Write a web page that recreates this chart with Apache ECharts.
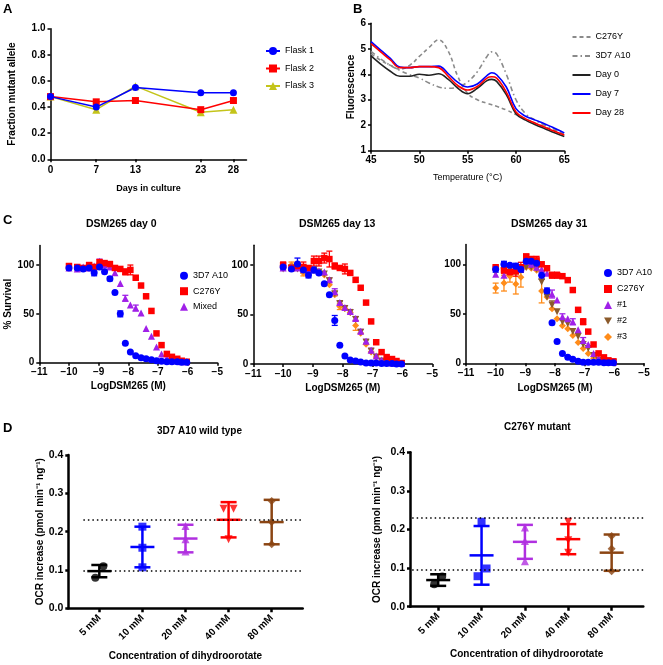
<!DOCTYPE html>
<html><head><meta charset="utf-8">
<script src="https://cdn.jsdelivr.net/npm/echarts@6/dist/echarts.min.js"></script>
<style>html,body{margin:0;padding:0;background:#fff}#c{width:663px;height:665px}</style>
</head><body><div id="c"></div>
<script>
// ---------- Panel A data ----------
const flaskDays = [0, 7, 13, 23, 28];
const flask1 = [0.48, 0.40, 0.55, 0.51, 0.51];
const flask2 = [0.48, 0.44, 0.45, 0.38, 0.45];
const flask3 = [0.48, 0.38, 0.56, 0.36, 0.38];

// ---------- Panel B data ----------
const meltTemp  = [45, 46, 47, 48, 49, 50, 51, 52, 53, 54, 55, 56, 57, 57.5, 58, 59, 60, 61, 62, 63, 64, 65];
const meltC276Y = [4.80, 4.55, 4.35, 4.20, 4.35, 4.70, 5.05, 5.35, 4.90, 3.90, 3.25, 3.00, 2.86, 2.80, 2.74, 2.60, 2.42, 2.25, 2.08, 1.93, 1.80, 1.65];
const melt3D7   = [4.90, 4.60, 4.35, 4.15, 3.98, 3.85, 3.66, 3.50, 3.45, 3.50, 3.70, 4.10, 4.70, 4.88, 4.80, 4.00, 3.00, 2.45, 2.20, 2.00, 1.85, 1.70];
const meltDay0  = [4.72, 4.40, 4.12, 3.92, 3.92, 4.00, 3.96, 4.02, 3.80, 3.45, 3.24, 3.45, 3.75, 3.80, 3.72, 3.20, 2.45, 2.20, 2.02, 1.86, 1.70, 1.56];
const meltDay7  = [5.28, 4.95, 4.62, 4.28, 4.26, 4.30, 4.30, 4.32, 4.02, 3.68, 3.50, 3.62, 3.95, 4.06, 3.98, 3.50, 2.65, 2.35, 2.20, 2.05, 1.88, 1.70];
const meltDay28 = [5.20, 4.88, 4.56, 4.26, 4.26, 4.30, 4.30, 4.26, 3.92, 3.55, 3.38, 3.52, 3.85, 3.90, 3.85, 3.30, 2.52, 2.25, 2.08, 1.92, 1.76, 1.62];

// ---------- Panel C data (log dose, % survival, error) ----------
const cDose = [-10, -9.72, -9.52, -9.32, -9.15, -8.97, -8.8, -8.62, -8.45, -8.27, -8.1, -7.93, -7.75, -7.57, -7.4, -7.22, -7.05, -6.88, -6.7, -6.53, -6.35, -6.2, -6.03];
// day 0
const d0Wt     = [97, 97, 96, 97, 92, 98, 93, 86, 72, 50, 20, 11, 7, 5, 4, 3, 2, 1.5, 1, 1, 1, 0.5, 0.5];
const d0WtErr  = [2, 0, 0, 0, 3, 2, 0, 2, 0, 3, 0, 0, 0, 0, 0, 0, 0, 0, 0, 0, 0, 0, 0];
const d0Mut    = [99, 98, 97, 100, 98, 103, 102, 101, 97, 96, 93, 95, 87, 79, 68, 53, 30, 18, 9, 6, 4, 2, 1];
const d0MutErr = [2, 0, 0, 0, 0, 0, 0, 0, 0, 0, 3, 5, 0, 0, 0, 0, 0, 0, 0, 0, 0, 0, 0];
const d0Mix    = [97, 96, 98, 97, 99, 104, 100, 98, 92, 81, 66, 59, 56, 51, 35, 27, 16, 9, 5, 3, 2, 1, 1];
const d0MixErr = [0, 0, 0, 0, 0, 2, 0, 0, 0, 0, 3, 0, 3, 0, 0, 0, 0, 0, 0, 0, 0, 0, 0];
// day 13
const d13Wt     = [98, 96, 101, 95, 90, 95, 92, 81, 70, 44, 19, 8, 4, 3, 2, 1, 1, 1, 0.5, 0.5, 0.5, 0, 0];
const d13WtErr  = [3, 0, 6, 3, 3, 3, 0, 0, 0, 5, 0, 0, 0, 0, 0, 0, 0, 0, 0, 0, 0, 0, 0];
const d13Mut    = [100, 97, 99, 98, 97, 104, 104, 107, 106, 99, 97, 96, 92, 85, 77, 62, 43, 22, 12, 7, 5, 3, 1];
const d13MutErr = [3, 0, 0, 5, 0, 5, 5, 5, 8, 3, 0, 5, 0, 0, 0, 0, 0, 0, 0, 0, 0, 0, 0];
const d13C1     = [97, 98, 97, 96, 95, 96, 94, 93, 85, 73, 62, 57, 53, 46, 33, 23, 14, 8, 4, 2, 1, 1, 0.5];
const d13C1Err  = [0, 0, 0, 0, 0, 0, 0, 0, 2, 3, 2, 2, 2, 2, 2, 2, 2, 0, 0, 0, 0, 0, 0];
const d13C2     = [96, 97, 96, 95, 94, 95, 93, 91, 84, 71, 61, 56, 52, 45, 32, 22, 13, 7, 3, 2, 1, 0.5, 0.5];
const d13C2Err  = [0, 0, 0, 0, 0, 0, 0, 0, 0, 2, 2, 0, 0, 0, 0, 0, 0, 0, 0, 0, 0, 0, 0];
const d13C3     = [97, 100, 97, 92, 93, 95, 92, 90, 80, 70, 58, 56, 52, 39, 31, 20, 12, 7, 3, 2, 1, 1, 0.5];
const d13C3Err  = [0, 3, 0, 3, 0, 0, 0, 0, 0, 0, 3, 0, 0, 5, 0, 0, 0, 0, 0, 0, 0, 0, 0];
// day 31
const d31Wt     = [95, 100, 99, 98, 95, 103, 103, 101, 89, 73, 41, 22, 10, 6, 4, 2, 1, 1, 1, 1, 0.5, 0.5, 0.5];
const d31WtErr  = [3, 3, 0, 3, 3, 3, 3, 3, 4, 3, 0, 0, 0, 0, 0, 0, 0, 0, 0, 0, 0, 0, 0];
const d31Mut    = [97, 94, 92, 93, 97, 108, 105, 104, 100, 96, 89, 89, 88, 84, 74, 54, 42, 32, 19, 10, 6, 3, 2];
const d31MutErr = [0, 3, 0, 5, 5, 2, 3, 4, 0, 0, 3, 3, 0, 0, 0, 0, 3, 0, 0, 0, 0, 0, 0];
const d31C1     = [90, 89, 93, 94, 96, 103, 100, 97, 95, 91, 70, 64, 47, 45, 42, 34, 23, 19, 10, 5, 2, 1, 1];
const d31C1Err  = [0, 0, 0, 0, 0, 0, 0, 0, 0, 0, 4, 0, 3, 0, 3, 0, 3, 0, 0, 0, 0, 0, 0];
const d31C2     = [92, 93, 95, 92, 94, 97, 97, 95, 82, 67, 59, 52, 42, 40, 32, 27, 19, 15, 8, 3, 1, 1, 0.5];
const d31C2Err  = [0, 0, 0, 0, 0, 0, 0, 0, 0, 0, 4, 0, 0, 0, 0, 0, 0, 0, 0, 0, 0, 0, 0];
const d31C3     = [76, 81, 88, 80, 87, 97, 96, 94, 73, 67, 55, 45, 38, 35, 28, 21, 15, 10, 5, 2, 1, 0.5, 0.5];
const d31C3Err  = [5, 8, 6, 10, 10, 0, 0, 0, 12, 0, 0, 0, 0, 0, 0, 0, 0, 0, 0, 0, 0, 0, 0];
const survivalTicks = [0, 50, 100];

// ---------- Panel D data ----------
const doseLabels = ['5 mM', '10 mM', '20 mM', '40 mM', '80 mM'];
const doseIndex = [0, 1, 2, 3, 4];
const wtPoints  = [[0.08, 0.11], [0.107, 0.158, 0.213], [0.148, 0.18, 0.215], [0.18, 0.26, 0.26], [0.167, 0.225, 0.28]];
const wtMean    = [0.097, 0.16, 0.182, 0.231, 0.225];
const wtSD      = [0.016, 0.053, 0.036, 0.046, 0.058];
const mutPoints = [[0.058, 0.078], [0.079, 0.099, 0.22], [0.118, 0.17, 0.205], [0.14, 0.172, 0.22], [0.092, 0.15, 0.183]];
const mutMean   = [0.069, 0.133, 0.168, 0.175, 0.14];
const mutSD     = [0.015, 0.076, 0.044, 0.039, 0.047];
const refLevels = [0.23, 0.097];

// ---------- styling ----------
const FONT = '"Liberation Sans", Arial, Helvetica, sans-serif';
const BLUE = '#0000ff', RED = '#ff0000', YEL = '#c4c41a', PURPLE = '#a020e8', BROWN = '#8b5a2b', ORANGE = '#ff8c1a';
const INV_TRI = 'path://M0,0 L10,0 L5,9 Z';
const dColors = ['#000000', BLUE, '#b030e0', RED, '#8b4513'];
const dSymbols = ['circle', 'rect', 'triangle', INV_TRI, 'diamond'];
const wtJitter  = [[-4, 4], [0, 0, 0], [0, 0, 0], [0, -5, 5], [0, 0, 0]];
const mutJitter = [[-4, 4], [-4, 5, 0], [0, 0, 0], [0, 0, 0], [0, 0, 0]];

function axis(w, extra) {
  const base = {
    axisLine: {show: true, onZero: false, lineStyle: {color: '#000', width: w}},
    axisTick: {show: true, inside: false, length: 3, lineStyle: {color: '#000', width: w}},
    splitLine: {show: false},
    axisLabel: {color: '#000', fontFamily: FONT, fontWeight: 'bold', fontSize: 10, margin: 5},
    nameLocation: 'middle',
    nameTextStyle: {color: '#000', fontFamily: FONT, fontWeight: 'bold', fontSize: 10}
  };
  for (const k in extra) {
    if (typeof extra[k] === 'object' && !Array.isArray(extra[k]) && base[k]) base[k] = Object.assign({}, base[k], extra[k]);
    else base[k] = extra[k];
  }
  return base;
}
const minusFmt = v => (v < 0 ? '\u2212' + Math.abs(v) : String(v));

function errRender(color) {
  return function (params, api) {
    const x = api.value(0), y = api.value(1), e = api.value(2);
    if (!e) return null;
    const t = api.coord([x, y + e]), b = api.coord([x, y - e]);
    const cw = 3, st = {stroke: color, lineWidth: 1.3};
    return {type: 'group', children: [
      {type: 'line', shape: {x1: t[0], y1: t[1], x2: b[0], y2: b[1]}, style: st},
      {type: 'line', shape: {x1: t[0] - cw, y1: t[1], x2: t[0] + cw, y2: t[1]}, style: st},
      {type: 'line', shape: {x1: b[0] - cw, y1: b[1], x2: b[0] + cw, y2: b[1]}, style: st}
    ]};
  };
}
function meanSdRender(params, api) {
  const i = api.value(0), m = api.value(1), s = api.value(2);
  const c = dColors[i];
  const pm = api.coord([i, m]), pt = api.coord([i, m + s]), pb = api.coord([i, m - s]);
  const st = {stroke: c, lineWidth: 2.5};
  const hw = 12, cw = 8;
  return {type: 'group', children: [
    {type: 'line', shape: {x1: pm[0] - hw, y1: pm[1], x2: pm[0] + hw, y2: pm[1]}, style: st},
    {type: 'line', shape: {x1: pt[0], y1: pt[1], x2: pb[0], y2: pb[1]}, style: st},
    {type: 'line', shape: {x1: pt[0] - cw, y1: pt[1], x2: pt[0] + cw, y2: pt[1]}, style: st},
    {type: 'line', shape: {x1: pb[0] - cw, y1: pb[1], x2: pb[0] + cw, y2: pb[1]}, style: st}
  ]};
}

const grids = [
  {left: 50.5, top: 28.7, width: 196, height: 130.6},   // A
  {left: 371, top: 23.3, width: 193.3, height: 127.4},  // B
  {left: 39.3, top: 245.5, width: 178, height: 117.2},  // C1
  {left: 253.3, top: 245.2, width: 179, height: 118.8}, // C2
  {left: 466, top: 244.5, width: 178, height: 118.8},   // C3
  {left: 68.3, top: 455, width: 234.4, height: 153.3},  // D1
  {left: 410, top: 452.3, width: 233.3, height: 154.4}  // D2
];

const xAxes = [
  axis(1.5, {type: 'value', gridIndex: 0, min: 0, max: 30, name: 'Days in culture', nameGap: 25,
    nameTextStyle: {fontSize: 9},
    axisTick: {customValues: flaskDays}, axisLabel: {customValues: flaskDays, margin: 6}}),
  axis(1.5, {type: 'value', gridIndex: 1, min: 45, max: 65, interval: 5, name: 'Temperature (\u00b0C)', nameGap: 22,
    nameTextStyle: {fontSize: 9, fontWeight: 'normal'}}),
  axis(1.5, {type: 'value', gridIndex: 2, min: -11, max: -5, interval: 1, name: 'LogDSM265 (M)', nameGap: 19,
    axisLabel: {formatter: minusFmt}}),
  axis(1.5, {type: 'value', gridIndex: 3, min: -11, max: -5, interval: 1, name: 'LogDSM265 (M)', nameGap: 19,
    axisLabel: {formatter: minusFmt}}),
  axis(1.5, {type: 'value', gridIndex: 4, min: -11, max: -5, interval: 1, name: 'LogDSM265 (M)', nameGap: 20,
    axisLabel: {formatter: minusFmt}}),
  axis(2.5, {type: 'value', gridIndex: 5, min: -0.72, max: 4.72, name: 'Concentration of dihydroorotate', nameGap: 43,
    axisTick: {customValues: doseIndex, length: 4}, axisLabel: {customValues: doseIndex, rotate: 45, margin: 8,
      formatter: v => doseLabels[Math.round(v)] || ''}}),
  axis(2.5, {type: 'value', gridIndex: 6, min: -0.65, max: 4.73, name: 'Concentration of dihydroorotate', nameGap: 43,
    axisTick: {customValues: doseIndex, length: 4}, axisLabel: {customValues: doseIndex, rotate: 45, margin: 8,
      formatter: v => doseLabels[Math.round(v)] || ''}})
];
const yAxes = [
  axis(1.5, {type: 'value', gridIndex: 0, min: 0, max: 1, interval: 0.2, name: 'Fraction mutant allele', nameGap: 33,
    axisLabel: {formatter: v => v.toFixed(1)}}),
  axis(1.5, {type: 'value', gridIndex: 1, min: 1, max: 6, interval: 1, name: 'Fluorescence', nameGap: 15}),
  axis(1.5, {type: 'value', gridIndex: 2, min: 0, max: 120, name: '% Survival', nameGap: 24,
    axisTick: {customValues: survivalTicks}, axisLabel: {customValues: survivalTicks}}),
  axis(1.5, {type: 'value', gridIndex: 3, min: 0, max: 120,
    axisTick: {customValues: survivalTicks}, axisLabel: {customValues: survivalTicks}}),
  axis(1.5, {type: 'value', gridIndex: 4, min: 0, max: 120,
    axisTick: {customValues: survivalTicks}, axisLabel: {customValues: survivalTicks}}),
  axis(2.5, {type: 'value', gridIndex: 5, min: 0, max: 0.4, interval: 0.1, name: 'OCR increase (pmol min\u207b\u00b9 ng\u207b\u00b9)', nameGap: 23,
    axisLabel: {formatter: v => v.toFixed(1), fontSize: 10.5}}),
  axis(2.5, {type: 'value', gridIndex: 6, min: 0, max: 0.4, interval: 0.1, name: 'OCR increase (pmol min\u207b\u00b9 ng\u207b\u00b9)', nameGap: 28,
    axisLabel: {formatter: v => v.toFixed(1), fontSize: 10.5}})
];

const series = [];
// A
[[flask3, 'Flask 3', YEL, 'triangle'], [flask2, 'Flask 2', RED, 'rect'], [flask1, 'Flask 1', BLUE, 'circle']].forEach(([vals, name, col, sym]) => {
  series.push({type: 'line', name, xAxisIndex: 0, yAxisIndex: 0, symbol: sym, symbolSize: sym === 'triangle' ? 8 : 7,
    lineStyle: {color: col, width: 1.5}, itemStyle: {color: col},
    data: flaskDays.map((d, i) => [d, vals[i]])});
});
// B
[[meltC276Y, 'C276Y', '#8a8a8a', [4, 3]], [melt3D7, '3D7 A10', '#8a8a8a', [5, 3, 1.5, 3]],
 [meltDay0, 'Day 0', '#222222', 'solid'], [meltDay7, 'Day 7', BLUE, 'solid'], [meltDay28, 'Day 28', RED, 'solid']].forEach(([vals, name, col, dash]) => {
  series.push({type: 'line', name, xAxisIndex: 1, yAxisIndex: 1, symbol: 'none', showSymbol: false, smooth: 0.4,
    lineStyle: {color: col, width: 1.6, type: dash}, itemStyle: {color: col},
    data: meltTemp.map((t, i) => [t, vals[i]])});
});
// C
const cPanels = [
  {ax: 2, sets: [['3D7 A10 ', d0Wt, d0WtErr, BLUE, 'circle'], ['C276Y ', d0Mut, d0MutErr, RED, 'rect'], ['Mixed', d0Mix, d0MixErr, PURPLE, 'triangle']]},
  {ax: 3, sets: [['3D7 A10  ', d13Wt, d13WtErr, BLUE, 'circle'], ['C276Y  ', d13Mut, d13MutErr, RED, 'rect'],
    ['#1 ', d13C1, d13C1Err, PURPLE, 'triangle'], ['#2 ', d13C2, d13C2Err, BROWN, INV_TRI], ['#3 ', d13C3, d13C3Err, ORANGE, 'diamond']]},
  {ax: 4, sets: [['3D7 A10   ', d31Wt, d31WtErr, BLUE, 'circle'], ['C276Y   ', d31Mut, d31MutErr, RED, 'rect'],
    ['#1', d31C1, d31C1Err, PURPLE, 'triangle'], ['#2', d31C2, d31C2Err, BROWN, INV_TRI], ['#3', d31C3, d31C3Err, ORANGE, 'diamond']]}
];
cPanels.forEach(p => {
  p.sets.slice().reverse().forEach(([name, vals, errs, col, sym]) => {
    series.push({type: 'custom', name: 'err' + name, xAxisIndex: p.ax, yAxisIndex: p.ax, renderItem: errRender(col),
      data: cDose.map((x, i) => [x, vals[i], errs[i]]), z: 2});
    series.push({type: 'scatter', name, xAxisIndex: p.ax, yAxisIndex: p.ax, symbol: sym,
      symbolSize: sym === 'rect' ? 6.5 : 7, itemStyle: {color: col, opacity: 1}, z: 3,
      data: cDose.map((x, i) => [x, vals[i]])});
  });
});
// D
[[5, wtPoints, wtMean, wtSD, wtJitter], [6, mutPoints, mutMean, mutSD, mutJitter]].forEach(([ax, pts, mean, sd, jit]) => {
  series.push({type: 'custom', name: 'meanSD' + ax, xAxisIndex: ax, yAxisIndex: ax, renderItem: meanSdRender, z: 3,
    data: doseIndex.map(i => [i, mean[i], sd[i]]),
    markLine: {silent: true, symbol: 'none', label: {show: false},
      lineStyle: {color: '#000', type: [1.5, 3], width: 1.6},
      data: refLevels.map(v => [{coord: [ax === 5 ? -0.37 : -0.6, v]}, {coord: [ax === 5 ? 4.72 : 4.73, v]}])}});
  const data = [];
  doseIndex.forEach(i => pts[i].forEach((v, k) => data.push({value: [i, v], symbol: dSymbols[i],
    symbolOffset: [jit[i][k], 0], itemStyle: {color: dColors[i]}})));
  series.push({type: 'scatter', name: 'pts' + ax, xAxisIndex: ax, yAxisIndex: ax, symbolSize: 8, z: 4, data});
});

const ttl = (text, left, top, size, weight) => ({text, left, top, padding: 0,
  textStyle: {fontFamily: FONT, fontSize: size, fontWeight: weight || 'bold', color: '#000'}});
const legendText = {fontFamily: FONT, fontSize: 9, color: '#000', lineHeight: 10};

const option = {
  animation: false,
  backgroundColor: '#fff',
  textStyle: {fontFamily: FONT},
  title: [
    ttl('A', 3, 3, 13), ttl('B', 353, 3, 13), ttl('C', 3, 214, 13), ttl('D', 3, 422, 13),
    ttl('DSM265 day 0', 86, 219, 10.5), ttl('DSM265 day 13', 299, 219, 10.5), ttl('DSM265 day 31', 511, 219, 10.5),
    ttl('3D7 A10 wild type', 157, 426, 10), ttl('C276Y mutant', 504, 422, 10)
  ],
  legend: [
    {orient: 'vertical', left: 260, top: 41, itemWidth: 14, itemHeight: 10, itemGap: 7.5, textStyle: legendText,
      data: ['Flask 1', 'Flask 2', 'Flask 3']},
    {orient: 'vertical', left: 566.5, top: 27, itemWidth: 18, itemHeight: 10, itemGap: 9, textStyle: legendText,
      itemStyle: {opacity: 0}, lineStyle: {width: 2},
      data: ['C276Y', '3D7 A10', 'Day 0', 'Day 7', 'Day 28']},
    {orient: 'vertical', left: 175, top: 265.7, itemWidth: 8, itemHeight: 8, itemGap: 5.5, textStyle: legendText,
      data: ['3D7 A10 ', 'C276Y ', 'Mixed']},
    {orient: 'vertical', left: 599, top: 263, itemWidth: 8, itemHeight: 8, itemGap: 6, textStyle: legendText,
      data: ['3D7 A10   ', 'C276Y   ', '#1', '#2', '#3']}
  ],
  grid: grids,
  xAxis: xAxes,
  yAxis: yAxes,
  series
};
const chart = echarts.init(document.getElementById('c'));
chart.setOption(option);
</script></body></html>
